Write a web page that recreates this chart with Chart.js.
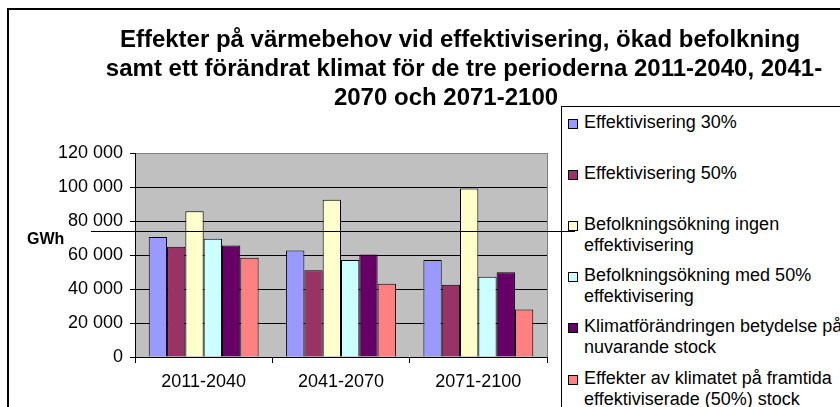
<!DOCTYPE html>
<html>
<head>
<meta charset="utf-8">
<script src="https://cdn.jsdelivr.net/npm/chart.js@4.4.1/dist/chart.umd.min.js"></script>
<style>
  html, body { margin: 0; padding: 0; background: #fff; }
  body { width: 840px; height: 407px; position: relative; overflow: hidden; font-family: 'Liberation Sans', Arial, sans-serif; color: #000; }
  #frame { position: absolute; left: 7px; top: 8px; width: 900px; height: 500px; border-left: 2px solid #000; border-top: 2px solid #000; }
  #c { position: absolute; left: 0; top: 0; }
  .tline { position: absolute; width: 800px; text-align: center; font-weight: bold; font-size: 24px; line-height: 29px; white-space: nowrap; }
  #legendBox { position: absolute; left: 561px; top: 106px; width: 400px; height: 400px; border-left: 1px solid #000; border-top: 1px solid #000; background: #fff; }
  .litem { position: absolute; left: 584px; font-size: 18px; line-height: 21px; white-space: nowrap; }
  .sw { position: absolute; left: 568px; width: 8px; height: 8px; border: 1px solid #000; }
  #gwh { position: absolute; left: 27px; top: 229px; font-weight: bold; font-size: 16px; line-height: 20px; }
  #leader { position: absolute; left: 91px; top: 231px; width: 484px; height: 1px; background: #000; }
</style>
</head>
<body>
<div id="frame"></div>
<canvas id="c" width="840" height="407"></canvas>
<div id="titleWrap"></div>
<div id="legendBox"></div>
<div id="legendWrap"></div>
<div id="gwh">GWh</div>
<div id="leader"></div>
<script>
// ---- data ----
const titleLines = [
  'Effekter på värmebehov vid effektivisering, ökad befolkning',
  'samt ett förändrat klimat för de tre perioderna 2011-2040, 2041-',
  '2070 och 2071-2100'
];
const categories = ['2011-2040', '2041-2070', '2071-2100'];
const seriesNames = [
  ['Effektivisering 30%'],
  ['Effektivisering 50%'],
  ['Befolkningsökning ingen', 'effektivisering'],
  ['Befolkningsökning med 50%', 'effektivisering'],
  ['Klimatförändringen betydelse på', 'nuvarande stock'],
  ['Effekter av klimatet på framtida', 'effektiviserade (50%) stock']
];
const effektiv30 = [70600, 62700, 57000];
const effektiv50 = [64800, 51100, 42500];
const befIngen = [85800, 92500, 99100];
const bef50 = [69500, 57000, 47200];
const klimatNuvarande = [65600, 60300, 49800];
const klimatFramtida = [58400, 43100, 27900];
const seriesValues = [effektiv30, effektiv50, befIngen, bef50, klimatNuvarande, klimatFramtida];
const seriesColors = ['#9999FF', '#993366', '#FFFFCC', '#CCFFFF', '#660066', '#FF8080'];
const yTickValues = [0, 20000, 40000, 60000, 80000, 100000, 120000];

// ---- title ----
const titleCenters = [460, 464, 446];
const titleWrap = document.getElementById('titleWrap');
titleLines.forEach((t, i) => {
  const d = document.createElement('div');
  d.className = 'tline';
  d.textContent = t;
  d.style.left = (titleCenters[i] - 400) + 'px';
  d.style.top = (24 + i * 29) + 'px';
  titleWrap.appendChild(d);
});

// ---- legend ----
const legendWrap = document.getElementById('legendWrap');
seriesNames.forEach((lines, i) => {
  const top = 112 + i * 51.1;
  const d = document.createElement('div');
  d.className = 'litem';
  d.style.top = top + 'px';
  d.innerHTML = lines.map(s => s.replace(/&/g, '&amp;').replace(/</g, '&lt;')).join('<br>');
  legendWrap.appendChild(d);
  const s = document.createElement('div');
  s.className = 'sw';
  s.style.top = (top + 7) + 'px';
  s.style.background = seriesColors[i];
  legendWrap.appendChild(s);
});

// ---- chart ----
const fmt = v => String(v).replace(/\B(?=(\d{3})+(?!\d))/g, ' ');

const plotBg = {
  id: 'plotBg',
  beforeDraw(chart) {
    const { ctx, chartArea: a } = chart;
    ctx.save();
    ctx.fillStyle = '#C0C0C0';
    ctx.fillRect(a.left, a.top, a.right - a.left, a.bottom - a.top);
    ctx.restore();
  },
  beforeDatasetsDraw(chart) {
    const { ctx, chartArea: a } = chart;
    ctx.save();
    ctx.strokeStyle = '#808080';
    ctx.lineWidth = 1;
    ctx.beginPath();
    ctx.moveTo(Math.round(a.right) + 0.5, a.top);
    ctx.lineTo(Math.round(a.right) + 0.5, a.bottom);
    ctx.stroke();
    ctx.restore();
  }
};

Chart.defaults.font.family = "'Liberation Sans', Arial, sans-serif";
Chart.defaults.color = '#000';

new Chart(document.getElementById('c'), {
  type: 'bar',
  data: {
    labels: categories,
    datasets: seriesValues.map((vals, i) => ({
      label: seriesNames[i].join(' '),
      data: vals,
      backgroundColor: seriesColors[i],
      borderColor: '#000',
      borderWidth: 1,
      categoryPercentage: 0.8,
      barPercentage: 1.0
    }))
  },
  options: {
    responsive: false,
    animation: false,
    layout: { padding: { top: 153, right: 293, bottom: 0, left: 0 } },
    plugins: { legend: { display: false }, title: { display: false }, tooltip: { enabled: false } },
    scales: {
      x: {
        afterFit(s) { s.height = 50; },
        grid: { drawOnChartArea: false, color: '#000', tickLength: 6, offset: true },
        border: { color: '#000', width: 1 },
        ticks: { font: { size: 18 }, padding: 8, color: '#000', maxRotation: 0 }
      },
      y: {
        min: 0,
        max: 120000,
        afterFit(s) { s.width = 135; },
        afterBuildTicks(s) { s.ticks = yTickValues.map(v => ({ value: v })); },
        grid: {
          color: c => (c.tick && c.tick.value === 120000 ? '#808080' : '#000'),
          tickColor: '#000',
          tickLength: 5
        },
        border: { color: '#000', width: 1 },
        ticks: { font: { size: 18 }, padding: 7, color: '#000', callback: v => fmt(v) }
      }
    }
  },
  plugins: [plotBg]
});
</script>
</body>
</html>
